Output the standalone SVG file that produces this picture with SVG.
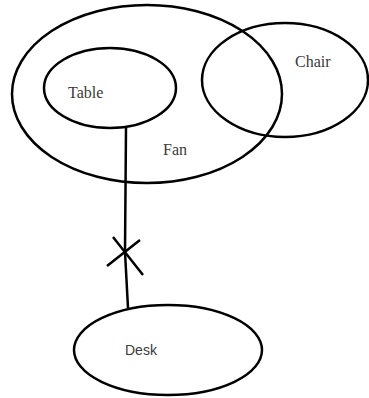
<svg xmlns="http://www.w3.org/2000/svg" width="369" height="398" viewBox="0 0 369 398">
<style>
.n{fill:none;stroke:#000;stroke-width:2.5}
.s{font-family:"Liberation Serif",serif;font-size:16px;fill:#3a3a3a}
.d{font-family:"Liberation Sans",sans-serif;font-size:14px;fill:#3a3a3a}
.c{fill:none;stroke:#000;stroke-width:2.5}
</style>
<rect width="369" height="398" fill="#fff"/>
<g id="fan"><ellipse class="n" cx="147" cy="94" rx="135" ry="89"/><text class="s" x="163" y="155">Fan</text></g>
<g id="table"><ellipse class="n" cx="110" cy="88" rx="66" ry="40"/><text class="s" x="68" y="98">Table</text></g>
<g id="chair"><ellipse class="n" cx="285" cy="80" rx="83" ry="57"/><text class="s" x="295" y="67">Chair</text></g>
<g id="desk"><ellipse class="n" cx="168" cy="350" rx="94" ry="45"/><text class="d" x="125" y="355">Desk</text></g>
<g id="connectors">
<path class="c" d="M126,128 L125,252 L128,308"/>
<path class="c" d="M107,266 L140,240 M113,237 L143,275"/>
</g>
</svg>
